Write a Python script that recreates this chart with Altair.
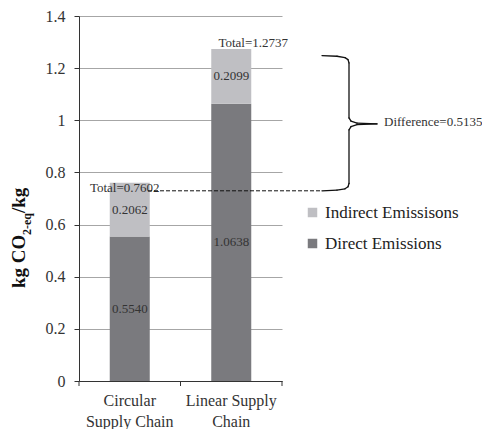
import altair as alt
import pandas as pd

# ---- data ----
categories = ["Circular Supply Chain", "Linear Supply Chain"]
direct = [0.5540, 1.0638]
indirect = [0.2062, 0.2099]
totals = [0.7602, 1.2737]
series = ["Indirect Emissisons", "Direct Emissions"]
y_ticks = [0, 0.2, 0.4, 0.6, 0.8, 1.0, 1.2, 1.4]

LIGHT = "#bfbfc3"
DARK = "#7a7a7e"
FONT = "Liberation Serif, Times New Roman, serif"
TXT = "#333333"
W, H = 203, 365

rows = []
for c, d, i in zip(categories, direct, indirect):
    rows.append({"category": c, "series": "Direct Emissions", "value": d, "order": 0, "y0": 0.0, "y1": d})
    rows.append({"category": c, "series": "Indirect Emissisons", "value": i, "order": 1, "y0": d, "y1": d + i})
df = pd.DataFrame(rows)
df["mid"] = (df["y0"] + df["y1"]) / 2

tot = pd.DataFrame({"category": categories, "total": totals})
low, high = min(totals), max(totals)
diff_df = pd.DataFrame({"mid": [(low + high) / 2], "label": [f"Difference={high - low:.4f}"]})

yscale = alt.Scale(domain=[0, 1.4], nice=False, zero=True)
xscale = alt.Scale(domain=categories, paddingInner=0, paddingOuter=0)

label_expr = ("datum.label == 'Circular Supply Chain' ? ['Circular', 'Supply Chain'] : "
              "['Linear Supply', 'Chain']")

x_enc = alt.X("category:N", scale=xscale, sort=categories, title=None,
              axis=alt.Axis(labelAngle=0, labelExpr=label_expr, ticks=False,
                            labelFont=FONT, labelFontSize=16, labelColor=TXT,
                            labelLineHeight=21, labelPadding=11,
                            domainColor="#333333", grid=False))

bars = alt.Chart(df).mark_bar(size=40).encode(
    x=x_enc,
    y=alt.Y("value:Q", stack="zero", scale=yscale, title=None,
            axis=alt.Axis(values=y_ticks, format="~g", grid=True, gridColor="#a6a6a6",
                          domainColor="#333333", tickColor="#333333", tickSize=5,
                          labelFont=FONT, labelFontSize=16, labelColor=TXT, labelPadding=9)),
    color=alt.Color("series:N", scale=alt.Scale(domain=series, range=[LIGHT, DARK]),
                    legend=alt.Legend(orient="none", legendX=225, legendY=188, title=None,
                                      symbolType="square", symbolSize=90, symbolStrokeWidth=0,
                                      labelFont=FONT, labelFontSize=17, labelColor="#222222",
                                      rowPadding=13, labelOffset=4, padding=0)),
    order=alt.Order("order:Q"),
)

# category-boundary ticks below the x axis
x_ticks = [alt.Chart(diff_df).mark_rule(color="#333333", strokeWidth=1).encode(
    x=alt.value(px), y=alt.value(H), y2=alt.value(H + 5)) for px in (0, W / 2, W)]

bar_labels = alt.Chart(df).mark_text(font=FONT, fontSize=13, color=TXT, baseline="middle").encode(
    x=alt.X("category:N", scale=xscale, sort=categories),
    y=alt.Y("mid:Q", scale=yscale),
    text=alt.Text("value:Q", format=".4f"),
)

tot_c = alt.Chart(tot).transform_filter(alt.datum.category == categories[0]).transform_calculate(
    lbl="'Total=' + format(datum.total, '.4f')").mark_text(
    font=FONT, fontSize=13, color=TXT, baseline="alphabetic", dx=-5, dy=9).encode(
    x=alt.X("category:N", scale=xscale, sort=categories),
    y=alt.Y("total:Q", scale=yscale),
    text="lbl:N",
)

tot_l = alt.Chart(tot).transform_filter(alt.datum.category == categories[1]).transform_calculate(
    lbl="'Total=' + format(datum.total, '.4f')").mark_text(
    font=FONT, fontSize=13, color=TXT, baseline="alphabetic", dx=22, dy=-2).encode(
    x=alt.X("category:N", scale=xscale, sort=categories),
    y=alt.Y("total:Q", scale=yscale),
    text="lbl:N",
)

OFF = 8
dashed = alt.Chart(tot).transform_filter(alt.datum.category == categories[0]).mark_rule(
    color="#111111", strokeWidth=1, strokeDash=[4, 2], yOffset=OFF).encode(
    x=alt.value(69), x2=alt.value(243),
    y=alt.Y("total:Q", scale=yscale),
)

diff_text = alt.Chart(diff_df).mark_text(
    font=FONT, fontSize=13, color=TXT, align="left", baseline="middle", yOffset=6).encode(
    x=alt.value(305),
    y=alt.Y("mid:Q", scale=yscale),
    text="label:N",
)

# bracket "}" drawn as a polyline between the two totals
# (x in pixels from the plot's left edge, t = fraction between low and high total)
br_x = [243, 258, 266, 269, 270, 270, 272, 278, 298, 278, 272, 270, 270, 269, 266, 258, 243]
br_t = [1.01, 1.005, 0.995, 0.98, 0.955, 0.545, 0.52, 0.505, 0.50, 0.495, 0.48, 0.455, 0.055, 0.03, 0.015, 0.005, 0.00]
br_y = [low + t * (high - low) for t in br_t]
bracket_layers = []
for k in range(len(br_x) - 1):
    bracket_layers.append(
        alt.Chart(diff_df).mark_rule(color="#111111", strokeWidth=1.3, yOffset=OFF, y2Offset=OFF,
                                     strokeCap="round").encode(
            x=alt.value(br_x[k]), x2=alt.value(br_x[k + 1]),
            y=alt.datum(br_y[k], scale=yscale), y2=alt.datum(br_y[k + 1]),
        )
    )

title_parts = [
    ("kg CO", 19, -54, 272),
    ("2-eq", 12, -48, 219),
    ("/kg", 19, -54, 197),
]
title_layers = []
for txt, fs, px, py in title_parts:
    title_layers.append(
        alt.Chart(pd.DataFrame({"t": [txt]})).mark_text(
            font=FONT, fontSize=fs, fontWeight="bold", color="#111111", angle=270,
            align="left", baseline="alphabetic").encode(
            text="t:N", x=alt.value(px), y=alt.value(py))
    )

chart = alt.layer(bars, *x_ticks, bar_labels, tot_c, tot_l, dashed, diff_text,
                  *bracket_layers, *title_layers).properties(
    width=W, height=H,
    padding={"left": 71, "top": 8, "right": 200, "bottom": 48},
    autosize=alt.AutoSizeParams(type="none"),
).configure(font=FONT).configure_view(stroke=None).configure_axis(
    labelFont=FONT).configure_legend(labelFont=FONT)

chart.save("out.html", embed_options={"renderer": "svg", "actions": False})
